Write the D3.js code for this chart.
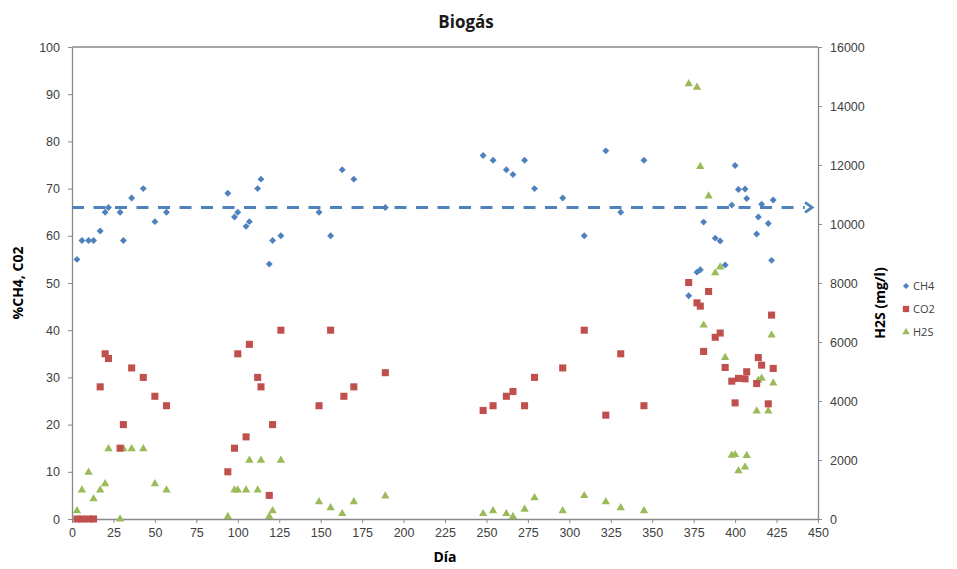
<!DOCTYPE html>
<html>
<head>
<meta charset="utf-8">
<script src="https://cdn.jsdelivr.net/npm/d3@7"></script>
<style>
  body { margin: 0; background: #fff; }
  svg { display: block; font-family: "Open Sans", sans-serif; }
</style>
</head>
<body>
<div id="chart"></div>
<script>
// días de muestreo y valores
const ch4Days = [3, 6, 10, 13, 17, 20, 22, 29, 31, 36, 43, 50, 57,
  94, 98, 100, 105, 107, 112, 114, 119, 121, 126,
  149, 156, 163, 170, 189,
  248, 254, 262, 266, 273, 279, 296, 309, 322, 331, 345,
  372, 377, 379, 381, 388, 391, 394, 398, 400, 402, 406, 407, 413, 414, 416, 420, 422, 423]
const ch4Values = [55, 59, 59, 59, 61, 65, 66, 65, 59, 68, 70, 63, 65,
  69, 64, 65, 62, 63, 70, 72, 54, 59, 60,
  65, 60, 74, 72, 66,
  77, 76, 74, 73, 76, 70, 68, 60, 78, 65, 76,
  47.3, 52.3, 52.8, 62.9, 59.5, 58.9, 53.8, 66.5, 74.9, 69.8, 69.9, 67.9, 60.4, 64, 66.7, 62.6, 54.8, 67.6]

const co2Days = [3, 6, 10, 13, 17, 20, 22, 29, 31, 36, 43, 50, 57,
  94, 98, 100, 105, 107, 112, 114, 119, 121, 126,
  149, 156, 164, 170, 189,
  248, 254, 262, 266, 273, 279, 296, 309, 322, 331, 345,
  372, 377, 379, 381, 384, 388, 391, 394, 398, 400, 402, 406, 407, 413, 414, 416, 420, 422, 423]
const co2Values = [0, 0, 0, 0, 28, 35, 34, 15, 20, 32, 30, 26, 24,
  10, 15, 35, 17.4, 37, 30, 28, 5, 20, 40,
  24, 40, 26, 28, 31,
  23, 24, 26, 27, 24, 30, 32, 40, 22, 35, 24,
  50.1, 45.8, 45.1, 35.5, 48.2, 38.5, 39.4, 32.1, 29.2, 24.6, 29.8, 29.7, 31.2, 28.7, 34.2, 32.6, 24.4, 43.2, 31.9]

const h2sDays = [3, 6, 10, 13, 17, 20, 22, 29, 31, 36, 43, 50, 57,
  94, 98, 100, 105, 107, 112, 114, 119, 121, 126,
  149, 156, 163, 170, 189,
  248, 254, 262, 266, 273, 279, 296, 309, 322, 331, 345,
  372, 377, 379, 381, 384, 388, 391, 394, 398, 400, 402, 406, 407, 413, 414, 416, 420, 422, 423]
const h2sValues = [280, 980, 1580, 680, 980, 1190, 2380, 0, 2380, 2380, 2380, 1190, 980,
  80, 980, 980, 980, 1990, 980, 1990, 80, 280, 1990,
  580, 380, 180, 580, 780,
  180, 280, 180, 80, 330, 720, 280, 790, 580, 380, 280,
  14750, 14630, 11950, 6570, 10950, 8340, 8540, 5470, 2160, 2180, 1630, 1760, 2150, 3660, 4700, 4770, 3660, 6230, 4610]

const avgCH4 = 66 // línea discontinua de referencia

const xTicks = d3.range(0, 451, 25)
const yLeftTicks = d3.range(0, 101, 10)
const yRightTicks = d3.range(0, 16001, 2000)

const width = 957, height = 569
const margin = { top: 47, right: 139, bottom: 50, left: 72 }

const svg = d3.select("#chart").append("svg")
  .attr("width", width)
  .attr("height", height)

const x = d3.scaleLinear().domain([0, 450]).range([margin.left, width - margin.right])
const yL = d3.scaleLinear().domain([0, 100]).range([height - margin.bottom, margin.top])
const yR = d3.scaleLinear().domain([0, 16000]).range([height - margin.bottom, margin.top])

const axisColor = "#898989"
const labelColor = "#404040"

// título
svg.append("text")
  .attr("x", 466).attr("y", 28)
  .attr("text-anchor", "middle")
  .attr("font-size", 17).attr("font-weight", "bold")
  .attr("fill", "#1a1a1a")
  .text("Biogás")

// marco superior
svg.append("line")
  .attr("x1", x(0)).attr("x2", x(450))
  .attr("y1", yL(100)).attr("y2", yL(100))
  .attr("stroke", axisColor).attr("stroke-width", 1.3)

function styleAxis(g) {
  g.select(".domain").attr("stroke", axisColor).attr("stroke-width", 1.3)
  g.selectAll(".tick line").attr("stroke", axisColor)
  g.selectAll(".tick text").attr("fill", labelColor).attr("font-size", 12.5)
}

svg.append("g")
  .attr("transform", `translate(0,${yL(0)})`)
  .call(d3.axisBottom(x).tickValues(xTicks).tickSize(4).tickSizeOuter(0).tickPadding(5))
  .call(styleAxis)

svg.append("g")
  .attr("transform", `translate(${x(0)},0)`)
  .call(d3.axisLeft(yL).tickValues(yLeftTicks).tickSize(4).tickSizeOuter(0).tickPadding(8))
  .call(styleAxis)

svg.append("g")
  .attr("transform", `translate(${x(450)},0)`)
  .call(d3.axisRight(yR).tickValues(yRightTicks).tickFormat(d3.format("d")).tickSize(4).tickSizeOuter(0).tickPadding(8))
  .call(styleAxis)

// títulos de ejes
svg.append("text")
  .attr("x", 445).attr("y", 562)
  .attr("text-anchor", "middle")
  .attr("font-size", 14).attr("font-weight", "bold")
  .text("Día")

svg.append("text")
  .attr("transform", `translate(23,${(yL(0) + yL(100)) / 2}) rotate(-90)`)
  .attr("text-anchor", "middle")
  .attr("font-size", 14).attr("font-weight", "bold")
  .text("%CH4, C02")

svg.append("text")
  .attr("transform", `translate(885,${(yL(0) + yL(100)) / 2 + 20}) rotate(-90)`)
  .attr("text-anchor", "middle")
  .attr("font-size", 14).attr("font-weight", "bold")
  .text("H2S (mg/l)")

// línea discontinua con flecha
const yAvg = yL(avgCH4)
svg.append("line")
  .attr("x1", x(0)).attr("x2", x(442))
  .attr("y1", yAvg).attr("y2", yAvg)
  .attr("stroke", "#4f81bd").attr("stroke-width", 3)
  .attr("stroke-dasharray", "12,9.5")
svg.append("path")
  .attr("d", `M${x(444) - 3},${yAvg - 5}L${x(444) + 4},${yAvg}L${x(444) - 3},${yAvg + 5}`)
  .attr("fill", "none").attr("stroke", "#4f81bd").attr("stroke-width", 2.8)

const series = [
  { name: "CH4", days: ch4Days, values: ch4Values, y: yL, color: "#4f81bd", symbol: d3.symbolSquare, size: 24, rotate: 45 },
  { name: "CO2", days: co2Days, values: co2Values, y: yL, color: "#c0504d", symbol: d3.symbolSquare, size: 50, rotate: 0 },
  { name: "H2S", days: h2sDays, values: h2sValues, y: yR, color: "#9bbb59", symbol: d3.symbolTriangle, size: 30, rotate: 0 }
]

series.slice().reverse().forEach(s => {
  svg.append("g")
    .selectAll("path")
    .data(s.days.map((d, i) => [d, s.values[i]]))
    .join("path")
    .attr("d", d3.symbol().type(s.symbol).size(s.size))
    .attr("transform", d => `translate(${x(d[0])},${s.y(d[1])}) rotate(${s.rotate})`)
    .attr("fill", s.color)
})

// leyenda
const legend = svg.append("g")
  .selectAll("g")
  .data(series)
  .join("g")
  .attr("transform", (d, i) => `translate(906,${286 + i * 23})`)

legend.append("path")
  .attr("d", d => d3.symbol().type(d.symbol).size(d.size * 0.8)())
  .attr("transform", d => `rotate(${d.rotate})`)
  .attr("fill", d => d.color)

legend.append("text")
  .attr("x", 7).attr("y", 4)
  .attr("font-size", 11).attr("fill", labelColor)
  .text(d => d.name)
</script>
</body>
</html>
